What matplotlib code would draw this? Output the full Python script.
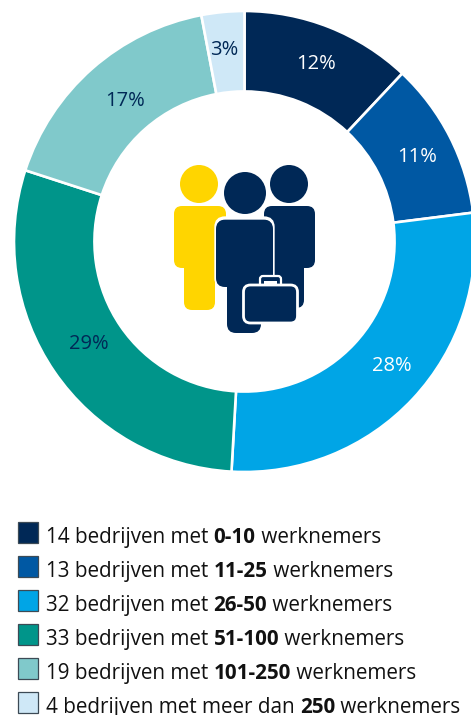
import matplotlib
matplotlib.use("Agg")
import numpy as np
import matplotlib.pyplot as plt
from matplotlib.patches import Circle, FancyBboxPatch, Rectangle

pct_values = [12, 11, 27.9, 29.1, 17, 3]
pct_labels = ["12%", "11%", "28%", "29%", "17%", "3%"]
colors = ["#002856", "#0058a3", "#00a5e6", "#00958a", "#80c9cb", "#cfe8f7"]
pct_colors = ["white", "white", "white", "#002856", "#002856", "#002856"]
legend_before = ["14 bedrijven met ", "13 bedrijven met ", "32 bedrijven met ",
                 "33 bedrijven met ", "19 bedrijven met ", "4 bedrijven met meer dan "]
legend_bold = ["0-10", "11-25", "26-50", "51-100", "101-250", "250"]
legend_after = " werknemers"
# nudges for the percentage labels, in pixels
label_shift = [(1, 0), (3, -2), (8, 5), (1, 5), (6, -2), (-2, 2)]

W, H = 471, 715
NAVY = "#002856"
YELLOW = "#ffd500"
FONT = "Open Sans"

fig = plt.figure(figsize=(W / 100, H / 100), dpi=100)

# donut, placed in pixels (runs a little past the right edge)
cx, cy, r = 244.5, 241.5, 230.5
ax = fig.add_axes([(cx - r) / W, 1 - (cy + r) / H, 2 * r / W, 2 * r / H])
wedges, _ = ax.pie(pct_values, colors=colors, startangle=90, counterclock=False, radius=1,
                   wedgeprops=dict(width=0.349, edgecolor="white", linewidth=1.9))
ax.set_xlim(-1, 1)
ax.set_ylim(-1, 1)
for w, lab, c, sh in zip(wedges, pct_labels, pct_colors, label_shift):
    a = np.deg2rad((w.theta1 + w.theta2) / 2)
    ax.annotate(lab, (0.826 * np.cos(a), 0.826 * np.sin(a)), xytext=sh, textcoords="offset pixels",
                color=c, ha="center", va="center", fontsize=14.5, family=FONT)

# overlay in pixel coordinates for the icon and the legend
ov = fig.add_axes([0, 0, 1, 1])
ov.set_xlim(0, W)
ov.set_ylim(H, 0)
ov.axis("off")


def box(x0, y0, x1, y1, rad, fc, ec="none", lw=0, z=2):
    ov.add_patch(FancyBboxPatch((x0 + rad, y0 + rad), x1 - x0 - 2 * rad, y1 - y0 - 2 * rad,
                                boxstyle=f"round,pad={rad},rounding_size={rad}",
                                fc=fc, ec=ec, lw=lw, zorder=z))


# yellow person
ov.add_patch(Circle((199, 184), 19, fc=YELLOW, zorder=2))
box(174, 206, 226, 268, 8, YELLOW)
box(184, 240, 215, 310, 8, YELLOW)
# right person
ov.add_patch(Circle((289, 184), 19, fc=NAVY, zorder=2))
box(264, 206, 315, 268, 8, NAVY)
box(272, 240, 304, 308, 8, NAVY)
# front person with white outline
ov.add_patch(Circle((245, 193), 21, fc=NAVY, zorder=3))
box(216, 218, 273, 287, 9, NAVY, "white", 2.4, 3)
box(227, 260, 261, 333, 9, NAVY, z=4)
box(216, 220, 273, 287, 9, NAVY, z=4)
# briefcase
box(260, 276, 281, 292, 3, NAVY, "white", 1.6, 5)
ov.add_patch(Rectangle((263.5, 281), 13.5, 4, fc="white", ec="none", zorder=6))
box(243.5, 285, 297.5, 323, 7, NAVY, "white", 2, 6)

# legend
fig.canvas.draw()
renderer = fig.canvas.get_renderer()
for i, color in enumerate(colors):
    y0 = 522 + 34 * i
    ov.add_patch(Rectangle((17.5, y0), 20.5, 20.5, fc=color, ec="#3c4a55", lw=0.9, zorder=2))
    x = 46
    base = y0 + 21
    parts = [(legend_before[i], "normal"), (legend_bold[i], "bold"), (legend_after, "normal")]
    for s, weight in parts:
        t = ov.text(x, base, s.replace(" ", "\u00a0"), fontsize=14.9, family=FONT, weight=weight,
                    color="#111111", ha="left", va="baseline")
        x = ov.transData.inverted().transform(t.get_window_extent(renderer))[1, 0]

fig.savefig("out.png", dpi=100)
